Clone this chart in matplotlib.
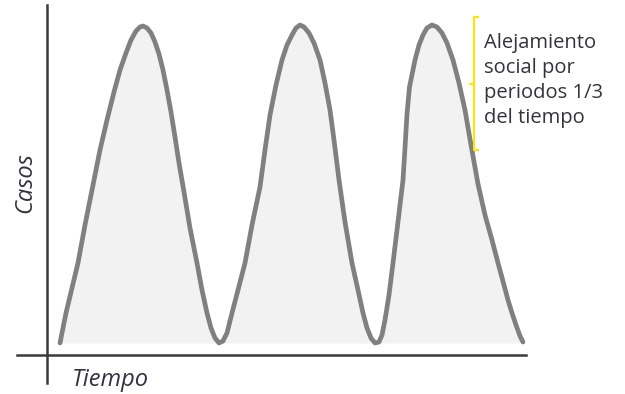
import matplotlib.pyplot as plt
import numpy as np

# curve (arbitrary units: time, cases)
tiempo = [13, 19, 25, 31, 38, 46, 53, 60, 67, 73,
          79, 84, 89, 93, 96, 100, 104, 108, 112, 116,
          120, 124, 128, 132, 137, 143, 150, 155, 160, 164,
          168, 172, 176, 180, 185, 191, 198, 205, 213, 218,
          223, 229, 235, 240, 245, 249, 253, 257, 262, 267,
          273, 278, 283, 287, 292, 298, 305, 311, 316, 320,
          324, 328, 332, 335, 338, 342, 346, 350, 353, 356,
          358, 360, 362.5, 368, 372, 376, 380, 385, 390, 395,
          400, 406, 412, 418, 424, 431, 438, 445, 451, 457,
          461, 465, 469, 473, 476]
casos = [11, 41, 66, 91, 129, 169, 204, 234, 262, 284,
         301, 314, 323, 327, 328, 326, 321, 312, 300, 284,
         264, 242, 217, 191, 162, 126, 91, 64, 41, 26,
         16, 11, 13, 21, 41, 64, 91, 129, 167, 204,
         239, 269, 294, 309, 319, 326, 329, 327, 321, 311,
         294, 271, 244, 214, 174, 132, 91, 64, 41, 26,
         16, 11, 12, 19, 34, 59, 91, 124, 149, 174,
         206, 240, 267, 294, 309, 319, 326, 329, 327, 321,
         311, 294, 271, 244, 209, 170, 139, 114, 91, 69,
         54, 41, 29, 18, 12]
base = 11

nota = "Alejamiento\nsocial por\nperiodos 1/3\ndel tiempo"
bracket_top, bracket_bottom = 337, 204

plt.rcParams['font.family'] = ['Open Sans', 'DejaVu Sans']

fig = plt.figure(figsize=(6.25, 3.94), dpi=100)
ax = fig.add_axes([0, 0, 1, 1])
ax.set_xlim(-47, 578)
ax.set_ylim(-40, 354)
ax.axis('off')

t = np.array(tiempo)
c = np.array(casos)
ax.fill_between(t, c, base, color='#f2f2f2', lw=0)
ax.plot(t, c, color='#808080', lw=3.4, solid_joinstyle='round', solid_capstyle='round')

# axes lines
ax.plot([0, 0], [-29, 349], color='#3a3a3a', lw=1.8)
ax.plot([-30, 479], [-1, -1], color='#3a3a3a', lw=1.8)

txt_col = '#33333d'
ax.text(-22, 171, 'Casos', rotation=90, style='italic', fontsize=17,
        color=txt_col, ha='center', va='center')
ax.text(25, -26, 'Tiempo', style='italic', fontsize=17,
        color=txt_col, ha='left', va='center')

# yellow bracket
yel = '#ffe600'
mid = (bracket_top + bracket_bottom) / 2
ax.plot([431, 427, 427, 431], [bracket_top, bracket_top, bracket_bottom, bracket_bottom],
        color=yel, lw=1.5)
ax.plot([427, 423], [mid, mid], color=yel, lw=1.5)

ax.text(437, 321, nota, fontsize=14.5, color=txt_col,
        ha='left', va='top', linespacing=1.33)

fig.savefig('out.png', dpi=100)
